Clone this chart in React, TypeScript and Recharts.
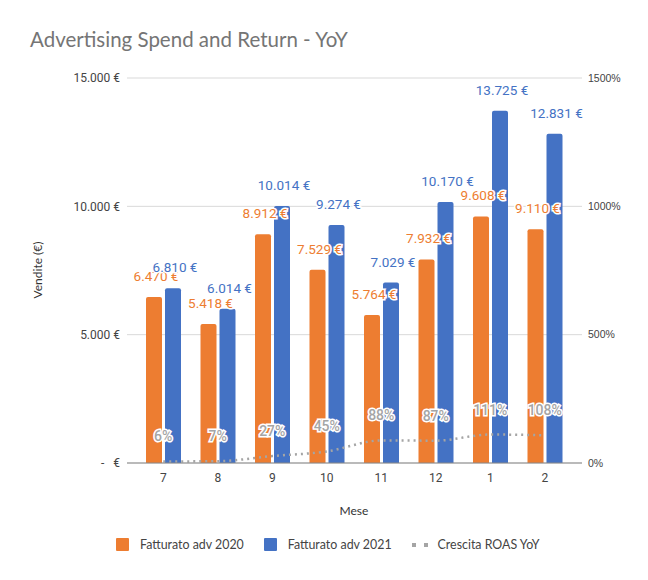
import { ComposedChart, Bar, Line, XAxis, YAxis, CartesianGrid, LabelList } from "recharts";

// dati
const MESI = ["7", "8", "9", "10", "11", "12", "1", "2"];
const FATTURATO_2020 = [6470, 5418, 8912, 7529, 5764, 7932, 9608, 9110];
const FATTURATO_2021 = [6810, 6014, 10014, 9274, 7029, 10170, 13725, 12831];
const ROAS_YOY = [6, 7, 27, 45, 88, 87, 111, 108];
const TICK_VENDITE = [0, 5000, 10000, 15000];
const TICK_ROAS = [0, 500, 1000, 1500];

const ORANGE = "#ED7D31";
const BLUE = "#4472C4";
const GREY = "#A5A5A5";

const data = MESI.map((mese, i) => ({
  mese,
  adv2020: FATTURATO_2020[i],
  adv2021: FATTURATO_2021[i],
  roas: ROAS_YOY[i],
}));

const fmtNum = (n: number) => String(n).replace(/\B(?=(\d{3})+(?!\d))/g, ".");
const fmtEuro = (n: number) => (n === 0 ? "-\u00A0\u00A0\u00A0€" : `${fmtNum(n)} €`);

const barLabel = (color: string) => (props: any) => {
  const { x, y, width, value } = props;
  return (
    <text
      x={Number(x) + Number(width) / 2 + 2}
      y={Number(y) - 16}
      textAnchor="middle"
      fill={color}
      stroke="#fff"
      strokeWidth={3}
      paintOrder="stroke"
      fontSize={13.5}
      fontFamily="Roboto"
    >
      {fmtEuro(value)}
    </text>
  );
};

const roasLabel = (props: any) => {
  const { x, y, value } = props;
  return (
    <text
      x={Number(x)}
      y={Number(y) - 20}
      textAnchor="middle"
      fill={GREY}
      stroke="#fff"
      strokeWidth={3}
      paintOrder="stroke"
      fontSize={14}
      fontWeight={500}
      fontFamily="Roboto"
    >
      {value}%
    </text>
  );
};

function LegendItem({ color, label, dotted }: { color: string; label: string; dotted?: boolean }) {
  return (
    <div style={{ display: "flex", alignItems: "center", marginRight: 20 }}>
      {dotted ? (
        <div style={{ display: "flex", gap: 8, width: 16, marginRight: 10 }}>
          <div style={{ width: 4, height: 4, background: GREY }} />
          <div style={{ width: 4, height: 4, background: GREY }} />
        </div>
      ) : (
        <div style={{ width: 13, height: 13, background: color, borderRadius: 1, marginRight: 11 }} />
      )}
      <span>{label}</span>
    </div>
  );
}

export default function App() {
  return (
    <div style={{ position: "absolute", left: 0, top: 0, width: 648, height: 580, background: "#fff" }}>
      <div
        style={{
          position: "absolute",
          left: 30,
          top: 27,
          fontFamily: "Lato",
          fontSize: 20.5,
          color: "#757575",
          whiteSpace: "nowrap",
        }}
      >
        Advertising Spend and Return - YoY
      </div>

      <ComposedChart
        width={648}
        height={580}
        data={data}
        margin={{ top: 78, right: 0, left: 0, bottom: 87 }}
        barSize={16}
        barGap={3}
      >
        <CartesianGrid yAxisId="left" vertical={false} stroke="#D9D9D9" />
        <XAxis
          dataKey="mese"
          height={30}
          padding={{ left: 9, right: 10 }}
          tickLine={false}
          tickSize={0}
          tickMargin={10}
          axisLine={{ stroke: "#888" }}
          tick={{ fill: "#444", fontSize: 12, fontFamily: "Roboto" }}
          label={{
            content: () => (
              <text x={354} y={515} textAnchor="middle" fill="#333" fontSize={12} fontFamily="Lato">
                Mese
              </text>
            ),
          }}
        />
        <YAxis
          yAxisId="left"
          width={127}
          domain={[0, 15000]}
          ticks={TICK_VENDITE}
          tickFormatter={fmtEuro}
          axisLine={false}
          tickLine={false}
          tickSize={0}
          tickMargin={7}
          tick={{ fill: "#444", fontSize: 12, fontFamily: "Roboto" }}
          label={{
            content: () => (
              <text
                x={42}
                y={270}
                transform="rotate(-90, 42, 270)"
                textAnchor="middle"
                fill="#333"
                fontSize={12}
                fontFamily="Lato"
              >
                Vendite (€)
              </text>
            ),
          }}
        />
        <YAxis
          yAxisId="right"
          orientation="right"
          width={66}
          domain={[0, 1500]}
          ticks={TICK_ROAS}
          tickFormatter={(v: number) => `${v}%`}
          axisLine={false}
          tickLine={false}
          tickSize={0}
          tickMargin={6}
          tick={{ fill: "#444", fontSize: 10.5, fontFamily: "Liberation Sans" }}
        />
        <Bar yAxisId="left" dataKey="adv2020" fill={ORANGE} radius={[2, 2, 0, 0]} isAnimationActive={false}>
          <LabelList dataKey="adv2020" content={barLabel(ORANGE)} />
        </Bar>
        <Bar yAxisId="left" dataKey="adv2021" fill={BLUE} radius={[2, 2, 0, 0]} isAnimationActive={false}>
          <LabelList dataKey="adv2021" content={barLabel(BLUE)} />
        </Bar>
        <Line
          yAxisId="right"
          type="monotone"
          dataKey="roas"
          stroke={GREY}
          strokeWidth={2.5}
          strokeDasharray="2 4"
          dot={false}
          activeDot={false}
          isAnimationActive={false}
        >
          <LabelList dataKey="roas" content={roasLabel} />
        </Line>
      </ComposedChart>

      <div
        style={{
          position: "absolute",
          left: 116,
          top: 536,
          display: "flex",
          alignItems: "center",
          fontFamily: "Lato",
          fontSize: 12.4,
          color: "#444",
          height: 17,
        }}
      >
        <LegendItem color={ORANGE} label="Fatturato adv 2020" />
        <LegendItem color={BLUE} label="Fatturato adv 2021" />
        <LegendItem color={GREY} label="Crescita ROAS YoY" dotted />
      </div>
    </div>
  );
}
